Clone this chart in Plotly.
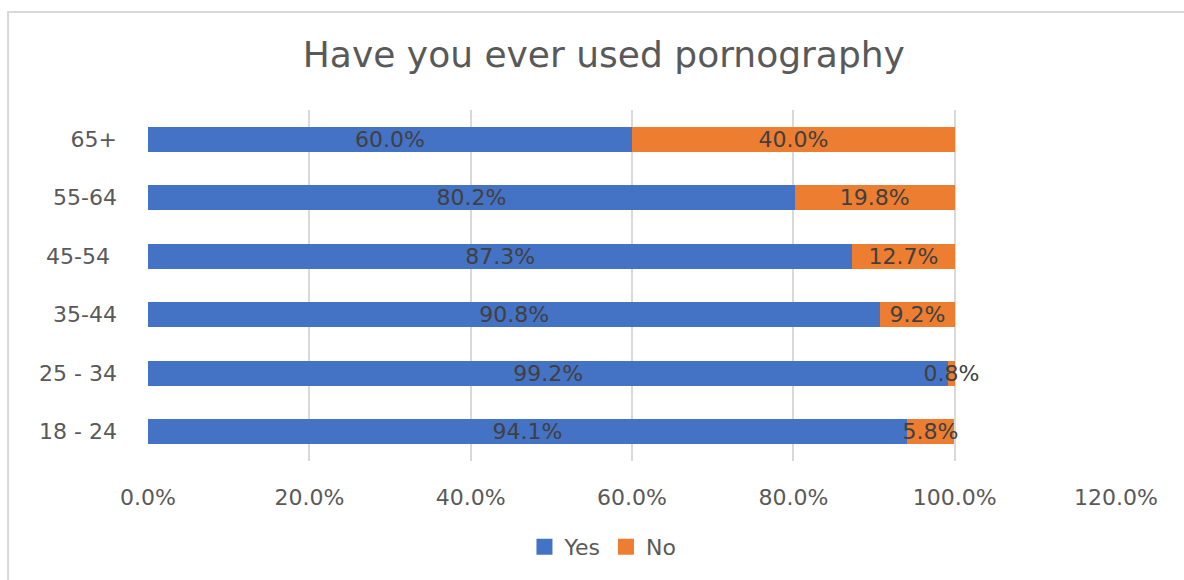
import plotly.graph_objects as go

# Survey responses by age group (percent of respondents)
age_groups = ["18 - 24", "25 - 34", "35-44", "45-54 ", "55-64", "65+"]
yes_pct = [94.1, 99.2, 90.8, 87.3, 80.2, 60.0]
no_pct = [5.8, 0.8, 9.2, 12.7, 19.8, 40.0]
x_ticks = [0, 20, 40, 60, 80, 100, 120]
x_tick_labels = ["0.0%", "20.0%", "40.0%", "60.0%", "80.0%", "100.0%", "120.0%"]

FONT = "DejaVu Sans, Open Sans, sans-serif"
LABEL_FONT = dict(family=FONT, size=22, color="#404040")
YES_COLOR = "#4472C4"
NO_COLOR = "#ED7D31"

fig = go.Figure()
fig.add_trace(go.Bar(
    name="Yes", y=age_groups, x=yes_pct, orientation="h",
    marker=dict(color=YES_COLOR, line=dict(width=0)),
    text=[f"{v:.1f}%" for v in yes_pct], textposition="inside",
    insidetextanchor="middle", textangle=0, textfont=LABEL_FONT,
    constraintext="none", cliponaxis=False, showlegend=False,
))
fig.add_trace(go.Bar(
    name="No", y=age_groups, x=no_pct, orientation="h",
    marker=dict(color=NO_COLOR, line=dict(width=0)),
    text=[f"{v:.1f}%" for v in no_pct], textposition="inside",
    insidetextanchor="middle", textangle=0, textfont=LABEL_FONT,
    constraintext="none", cliponaxis=False, showlegend=False,
))

# Legend keys drawn as larger square swatches
for name, color in [("Yes", YES_COLOR), ("No", NO_COLOR)]:
    fig.add_trace(go.Scatter(
        name=name, x=[None], y=[None], mode="markers",
        marker=dict(symbol="square", size=16, color=color),
        showlegend=True, hoverinfo="skip",
    ))

fig.update_layout(
    barmode="stack",
    bargap=0.58,
    width=1184, height=580,
    margin=dict(l=148, r=68, t=110, b=115),
    paper_bgcolor="white", plot_bgcolor="white",
    uniformtext=dict(mode="show", minsize=22),
    title=dict(
        text="Have you ever used pornography",
        x=0.51, xanchor="center", y=0.906, yanchor="middle",
        font=dict(family=FONT, size=36, color="#595959"),
    ),
    xaxis=dict(
        range=[0, 120], tickvals=x_ticks, ticktext=x_tick_labels,
        showgrid=True, gridcolor="#D9D9D9", gridwidth=2,
        zeroline=False, showline=False, ticks="", ticklabelstandoff=21,
        tickfont=dict(family=FONT, size=22, color="#595959"),
    ),
    yaxis=dict(
        categoryorder="array", categoryarray=age_groups,
        showgrid=False, zeroline=False, showline=False, ticks="",
        ticklabelstandoff=30,
        tickfont=dict(family=FONT, size=22, color="#595959"),
    ),
    legend=dict(
        orientation="h", x=0.47, xanchor="center", y=-0.185, yanchor="top",
        font=dict(family=FONT, size=22, color="#595959"),
        itemwidth=30, traceorder="normal", itemsizing="trace",
    ),
    shapes=[dict(
        type="rect", xref="paper", yref="paper",
        x0=-0.1446, x1=1.2, y0=-0.5, y1=1.279,
        line=dict(color="#D9D9D9", width=2), fillcolor="rgba(0,0,0,0)",
        layer="below",
    )],
)

fig.write_html("out.html")
